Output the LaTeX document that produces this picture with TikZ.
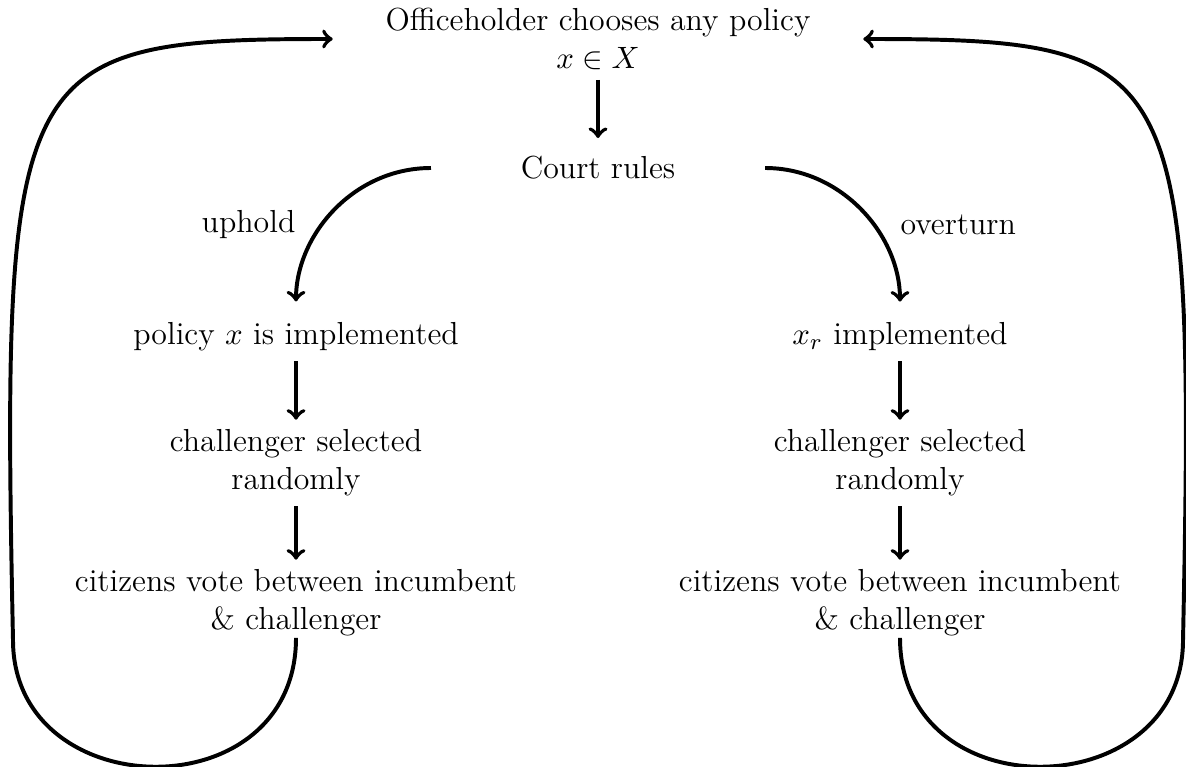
\documentclass[tikz,border=0pt]{standalone}
\usetikzlibrary{positioning}

\begin{document}
\begin{tikzpicture}[x=0.01247cm, y=-0.01247cm,
    font=\fontsize{11.3pt}{13.5pt}\selectfont,
    etape/.style={align=center},
    fl/.style={->, line width=1.4pt}]
    \useasboundingbox (0,0) rectangle (1186,767);
    \node[etape, minimum width=6.6cm] (choix) at (598,39)
      {Officeholder chooses any policy\\ $x\in X$};
    \node[etape, minimum width=4.15cm] (cour) at (598,168) {Court rules};
    % branche gauche : la Cour confirme
    \node[etape] (implG) at (296,337) {policy $x$ is implemented};
    \node[etape] (chalG) at (296,463) {challenger selected\\ randomly};
    \node[etape] (voteG) at (296,603)
      {citizens vote between incumbent\\ \& challenger};
    % branche droite : la Cour annule
    \node[etape] (implD) at (900,337) {$x_r$ implemented};
    \node[etape] (chalD) at (900,463) {challenger selected\\ randomly};
    \node[etape] (voteD) at (900,603)
      {citizens vote between incumbent\\ \& challenger};
    \coordinate (bouclG) at (13,640);
    \coordinate (bouclD) at (1183,640);
    \draw[fl, shorten >=3pt] (choix)--(cour);
    \draw[fl, shorten >=4pt] (cour.west) to[out=180, in=90]
      node[pos=0.58, left=6pt] {uphold} (implG.north);
    \draw[fl, shorten >=4pt] (cour.east) to[out=0, in=90]
      node[pos=0.58, right=6pt] {overturn} (implD.north);
    \draw[fl] (implG)--(chalG);
    \draw[fl] (chalG)--(voteG);
    \draw[fl] (implD)--(chalD);
    \draw[fl] (chalD)--(voteD);
    \draw[fl, shorten <=-3pt] (voteG.south) to[out=-90, in=-90, looseness=1.5] (bouclG)
      .. controls +(-12,-580) and +(-320,0) .. (choix.west);
    \draw[fl, shorten <=-3pt] (voteD.south) to[out=-90, in=-90, looseness=1.5] (bouclD)
      .. controls +(12,-580) and +(320,0) .. (choix.east);
  \end{tikzpicture}
\end{document}
